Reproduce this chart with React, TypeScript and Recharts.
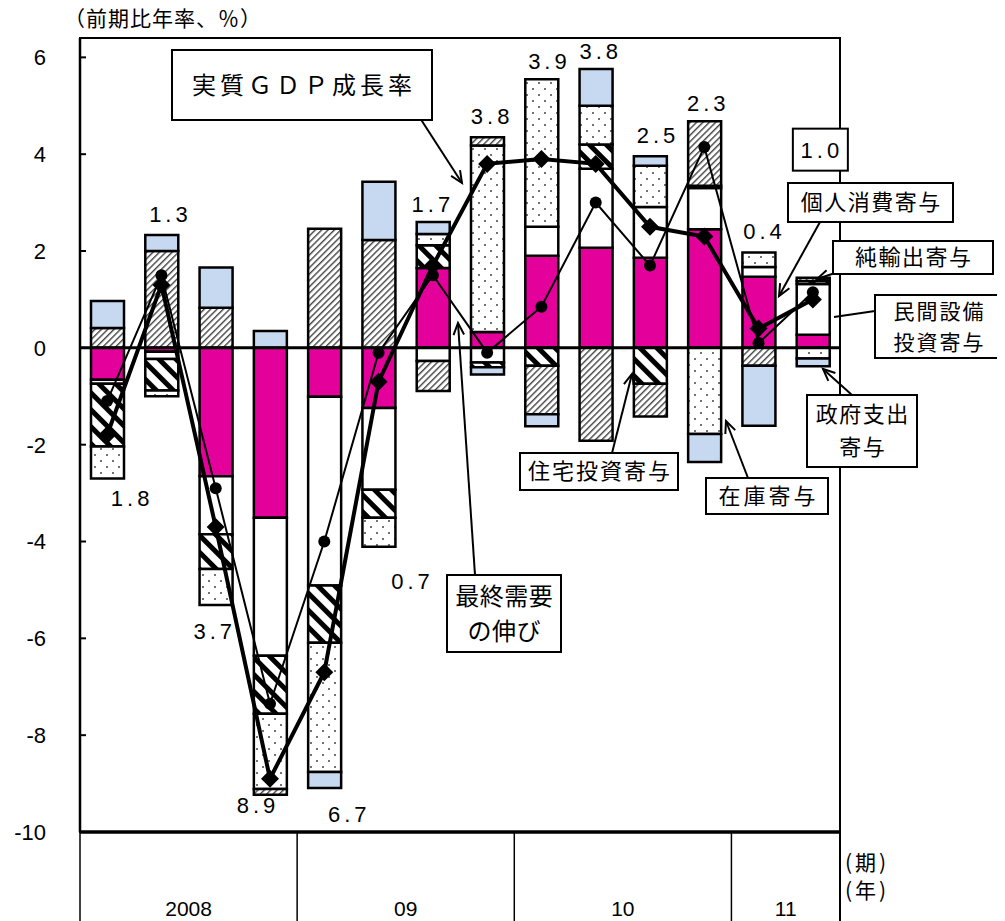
import React from "react";
import {
  Bar,
  ComposedChart,
  Line,
  ReferenceArea,
  ReferenceLine,
  XAxis,
  YAxis,
} from "recharts";

// 四半期（2008年1-3月期 〜 2011年4-6月期）
const QUARTERS = [
  "2008-1", "2008-2", "2008-3", "2008-4",
  "2009-1", "2009-2", "2009-3", "2009-4",
  "2010-1", "2010-2", "2010-3", "2010-4",
  "2011-1", "2011-2",
];
const YEAR_LABELS = ["2008", "09", "10", "11"];
const YEAR_FIRST_INDEX = [0, 4, 8, 12];
const YEAR_QUARTER_COUNT = [4, 4, 4, 2];
const Y_TICKS = [-10, -8, -6, -4, -2, 0, 2, 4, 6];

// 寄与度（前期比年率、％）
const CONSUMPTION = [-0.66, -0.08, -2.65, -3.51, -1.01, -1.24, 1.65, 0.33, 1.9, 2.07, 1.86, 2.45, 1.47, 0.27];
const EQUIPMENT = [-0.08, -0.15, -1.2, -2.85, -3.9, -1.69, -0.27, -0.3, 0.6, 1.63, 1.05, 0.85, 0.2, 1.05];
const HOUSING = [-1.3, -0.65, -0.72, -1.2, -1.18, -0.58, 0.47, -0.1, -0.37, 0.5, -0.74, 0.05, 0, 0.06];
const INVENTORY = [-0.66, -0.12, -0.74, -1.55, -2.67, -0.6, 0.23, 3.85, 3.05, 0.8, 0.85, -1.78, 0.3, -0.22];
const NET_EXPORTS = [0.41, 2.0, 0.83, -0.12, 2.46, 2.23, -0.62, 0.17, -1.0, -1.92, -0.68, 1.33, -0.37, 0.07];
const GOVERNMENT = [0.56, 0.33, 0.83, 0.35, -0.33, 1.2, 0.25, -0.15, -0.25, 0.76, 0.2, -0.58, -1.24, -0.16];

const GDP = [-1.8, 1.3, -3.7, -8.9, -6.7, -0.7, 1.7, 3.8, 3.9, 3.8, 2.5, 2.3, 0.4, 1.0];
const FINAL_DEMAND = [-1.1, 1.5, -2.9, -7.35, -4.0, -0.1, 1.5, -0.1, 0.85, 3.0, 1.7, 4.15, 0.1, 1.15];

// label offsets from the end of each bar (px)
const LABEL_OFFSETS = [
  [23, 20], [7, -21], [-3, 26], [-14, 10], [23, 26], [32, 34], [-2, -18],
  [3, -21], [6, -18], [3, -18], [6, -21], [2, -18], [4, -21], [7, -128],
];

const FONT_JP = '"Noto Sans CJK JP", "Noto Sans", sans-serif';
const FONT_NUM = '"Liberation Sans", Arial, sans-serif';
const MAGENTA = "#e4009b";
const LIGHT_BLUE = "#c6d9f0";

const sum = (xs: number[]) => xs.reduce((a, b) => a + b, 0);

const chartData = QUARTERS.map((q, i) => {
  const parts = [CONSUMPTION[i], EQUIPMENT[i], HOUSING[i], INVENTORY[i], NET_EXPORTS[i], GOVERNMENT[i]];
  const top = sum(parts.filter((v) => v > 0));
  const bottom = sum(parts.filter((v) => v < 0));
  return {
    q,
    consumption: CONSUMPTION[i],
    equipment: EQUIPMENT[i],
    housing: HOUSING[i],
    inventory: INVENTORY[i],
    netExports: NET_EXPORTS[i],
    government: GOVERNMENT[i],
    gdp: GDP[i],
    finalDemand: FINAL_DEMAND[i],
    labelAt: GDP[i] >= 0 ? top : bottom,
  };
});

const SERIES = [
  { key: "consumption", fill: MAGENTA },
  { key: "equipment", fill: "#ffffff" },
  { key: "housing", fill: "url(#thickStripe)" },
  { key: "inventory", fill: "url(#dots)" },
  { key: "netExports", fill: "url(#fineHatch)" },
  { key: "government", fill: LIGHT_BLUE },
];

function YTick(props: any) {
  const { x, y, payload } = props;
  return (
    <g>
      <line x1={x} x2={x + 6} y1={y} y2={y} stroke="#000" strokeWidth={2} />
      <text x={x - 34} y={y} dy="0.36em" textAnchor="end" fontSize={22} fontFamily={FONT_NUM} fill="#000">
        {payload.value}
      </text>
    </g>
  );
}

function XTick(props: any) {
  const { x, y, index, payload } = props;
  const half = payload && payload.offset ? payload.offset : 27.14;
  const yi = YEAR_FIRST_INDEX.indexOf(index);
  const last = index === QUARTERS.length - 1;
  return (
    <g>
      {yi >= 0 && (
        <>
          <line x1={x - half} x2={x - half} y1={y} y2={y + 89} stroke="#000" strokeWidth={1.5} />
          <text
            x={x - half + YEAR_QUARTER_COUNT[yi] * half}
            y={y + 84}
            textAnchor="middle"
            fontSize={21}
            fontFamily='"Liberation Sans Narrow", "Liberation Sans", Arial, sans-serif'
            fill="#000"
          >
            {YEAR_LABELS[yi]}
          </text>
        </>
      )}
      {last && <line x1={x + half} x2={x + half} y1={y} y2={y + 89} stroke="#000" strokeWidth={2} />}
    </g>
  );
}

function Diamond(props: any) {
  const { cx, cy, index } = props;
  if (cx == null || cy == null) return <g key={`d${index}`} />;
  const r = 9;
  return (
    <polygon
      key={`d${index}`}
      points={`${cx},${cy - r} ${cx + r},${cy} ${cx},${cy + r} ${cx - r},${cy}`}
      fill="#000"
    />
  );
}

function Dot(props: any) {
  const { cx, cy, index } = props;
  if (cx == null || cy == null) return <g key={`c${index}`} />;
  return <circle key={`c${index}`} cx={cx} cy={cy} r={6} fill="#000" />;
}

function GdpLabel(props: any) {
  const { x, y, index } = props;
  if (x == null || y == null || index == null) return null;
  const [dx, dy] = LABEL_OFFSETS[index];
  const cx = x + dx;
  const cy = y + dy;
  const boxed = index === GDP.length - 1;
  return (
    <g>
      {boxed && <rect x={cx - 27} y={cy - 21} width={55} height={42} fill="#fff" stroke="#000" strokeWidth={2} />}
      <text
        x={cx + 2}
        y={cy}
        dy="0.36em"
        textAnchor="middle"
        fontSize={22}
        letterSpacing={4}
        fontFamily={FONT_NUM}
        fill="#000"
      >
        {Math.abs(GDP[index]).toFixed(1)}
      </text>
    </g>
  );
}

type Box = { lines: string[]; x: number; y: number; w: number; h: number; size: number; spacing: number; lh?: number };

const BOXES: Box[] = [
  { lines: ["実質ＧＤＰ成長率"], x: 172, y: 50, w: 260, h: 70, size: 24, spacing: 4 },
  { lines: ["最終需要", "の伸び"], x: 447, y: 575, w: 114, h: 77, size: 24, spacing: 0.5, lh: 35 },
  { lines: ["住宅投資寄与"], x: 520, y: 453, w: 158, h: 37, size: 22, spacing: 2 },
  { lines: ["在庫寄与"], x: 706, y: 478, w: 122, h: 36, size: 22, spacing: 3 },
  { lines: ["個人消費寄与"], x: 788, y: 183, w: 165, h: 39, size: 22, spacing: 1.5 },
  { lines: ["純輸出寄与"], x: 833, y: 241, w: 160, h: 33, size: 22, spacing: 1.5 },
  { lines: ["民間設備", "投資寄与"], x: 875, y: 295, w: 127, h: 63, size: 21, spacing: 2, lh: 31 },
  { lines: ["政府支出", "寄与"], x: 807, y: 395, w: 110, h: 72, size: 22, spacing: 1.5, lh: 33 },
];

const ARROWS = [
  { from: [420, 118], to: [462, 183], head: true },
  { from: [475, 575], to: [458, 323], head: true },
  { from: [612, 453], to: [632, 374], head: true },
  { from: [748, 478], to: [726, 421], head: true },
  { from: [820, 222], to: [779, 296], head: true },
  { from: [838, 272], to: [817, 279], head: true },
  { from: [875, 311], to: [834, 317], head: false },
  { from: [852, 395], to: [823, 369], head: true },
];

function Arrow({ from, to, head }: { from: number[]; to: number[]; head: boolean }) {
  const [x1, y1] = from;
  const [x2, y2] = to;
  const ang = Math.atan2(y1 - y2, x1 - x2);
  const len = 13;
  const spread = 0.42;
  const a = [x2 + len * Math.cos(ang + spread), y2 + len * Math.sin(ang + spread)];
  const b = [x2 + len * Math.cos(ang - spread), y2 + len * Math.sin(ang - spread)];
  return (
    <g stroke="#000" strokeWidth={2} fill="none">
      <line x1={x1} y1={y1} x2={x2} y2={y2} />
      {head && <polyline points={`${a[0]},${a[1]} ${x2},${y2} ${b[0]},${b[1]}`} />}
    </g>
  );
}

function Callout({ box }: { box: Box }) {
  const { lines, x, y, w, h, size, spacing } = box;
  const lh = box.lh ?? size * 1.45;
  const y0 = y + h / 2 - ((lines.length - 1) * lh) / 2;
  return (
    <g>
      <rect x={x} y={y} width={w} height={h} fill="#fff" stroke="#000" strokeWidth={2} />
      {lines.map((t, i) => (
        <text
          key={t}
          x={x + w / 2 + spacing / 2}
          y={y0 + i * lh}
          dy="0.36em"
          textAnchor="middle"
          fontSize={size}
          letterSpacing={spacing}
          fontFamily={FONT_JP}
          fill="#000"
        >
          {t}
        </text>
      ))}
    </g>
  );
}

export default function App() {
  return (
    <div style={{ position: "relative", width: 997, height: 913 }}>
      <svg width={0} height={0} style={{ position: "absolute" }}>
        <defs>
          <pattern id="thickStripe" width={12} height={12} patternUnits="userSpaceOnUse" patternTransform="rotate(-45)">
            <rect x={0} y={0} width={12} height={12} fill="#fff" />
            <rect x={0} y={0} width={5} height={12} fill="#000" />
          </pattern>
          <pattern id="fineHatch" width={4.5} height={4.5} patternUnits="userSpaceOnUse" patternTransform="rotate(45)">
            <rect x={0} y={0} width={4.5} height={4.5} fill="#fff" />
            <rect x={0} y={0} width={1.4} height={4.5} fill="#444" />
          </pattern>
          <pattern id="dots" width={12} height={12} patternUnits="userSpaceOnUse">
            <rect x={0} y={0} width={12} height={12} fill="#fff" />
            <circle cx={3} cy={3} r={1} fill="#444" />
            <circle cx={9} cy={9} r={1} fill="#444" />
          </pattern>
        </defs>
      </svg>
      <ComposedChart
        width={997}
        height={913}
        data={chartData}
        stackOffset="sign"
        margin={{ top: 30, right: 165, bottom: 0, left: 0 }}
        barCategoryGap={0}
      >
        <ReferenceArea y1={-10} y2={6.4} fill="none" stroke="#000" strokeWidth={2} fillOpacity={0} />
        <XAxis
          dataKey="q"
          height={89}
          interval={0}
          tickLine={false}
          tickSize={0}
          tickMargin={0}
          axisLine={{ stroke: "#000", strokeWidth: 3.5 }}
          tick={XTick}
        />
        <YAxis
          width={72}
          domain={[-10, 6.4]}
          ticks={Y_TICKS}
          allowDataOverflow
          tickLine={false}
          tickSize={0}
          tickMargin={0}
          axisLine={{ stroke: "#000", strokeWidth: 2.5 }}
          tick={YTick}
        />
        {SERIES.map((s) => (
          <Bar
            key={s.key}
            dataKey={s.key}
            stackId="a"
            fill={s.fill}
            stroke="#000"
            strokeWidth={2.5}
            barSize={33}
            isAnimationActive={false}
          />
        ))}
        <ReferenceLine y={0} stroke="#000" strokeWidth={3} />
        <Line
          dataKey="finalDemand"
          stroke="#000"
          strokeWidth={2}
          dot={Dot}
          activeDot={false}
          isAnimationActive={false}
        />
        <Line
          dataKey="gdp"
          stroke="#000"
          strokeWidth={4}
          dot={Diamond}
          activeDot={false}
          isAnimationActive={false}
        />
        <Line
          dataKey="labelAt"
          stroke="none"
          dot={false}
          activeDot={false}
          label={GdpLabel}
          isAnimationActive={false}
        />
      </ComposedChart>
      <svg
        width={1005}
        height={921}
        style={{ position: "absolute", left: -8, top: -8, pointerEvents: "none" }}
      >
        <text x={64} y={18} dy="0.36em" fontSize={21} letterSpacing={1} fontFamily={FONT_JP} fill="#000">
          （前期比年率、％）
        </text>
        {ARROWS.map((a, i) => (
          <Arrow key={i} from={a.from} to={a.to} head={a.head} />
        ))}
        {BOXES.map((b) => (
          <Callout key={b.lines.join("")} box={b} />
        ))}
        <text x={845} y={862} dy="0.36em" fontSize={21} letterSpacing={3} fontFamily={FONT_JP} fill="#000">
          (期)
        </text>
        <text x={845} y={890} dy="0.36em" fontSize={21} letterSpacing={3} fontFamily={FONT_JP} fill="#000">
          (年)
        </text>
      </svg>
    </div>
  );
}
